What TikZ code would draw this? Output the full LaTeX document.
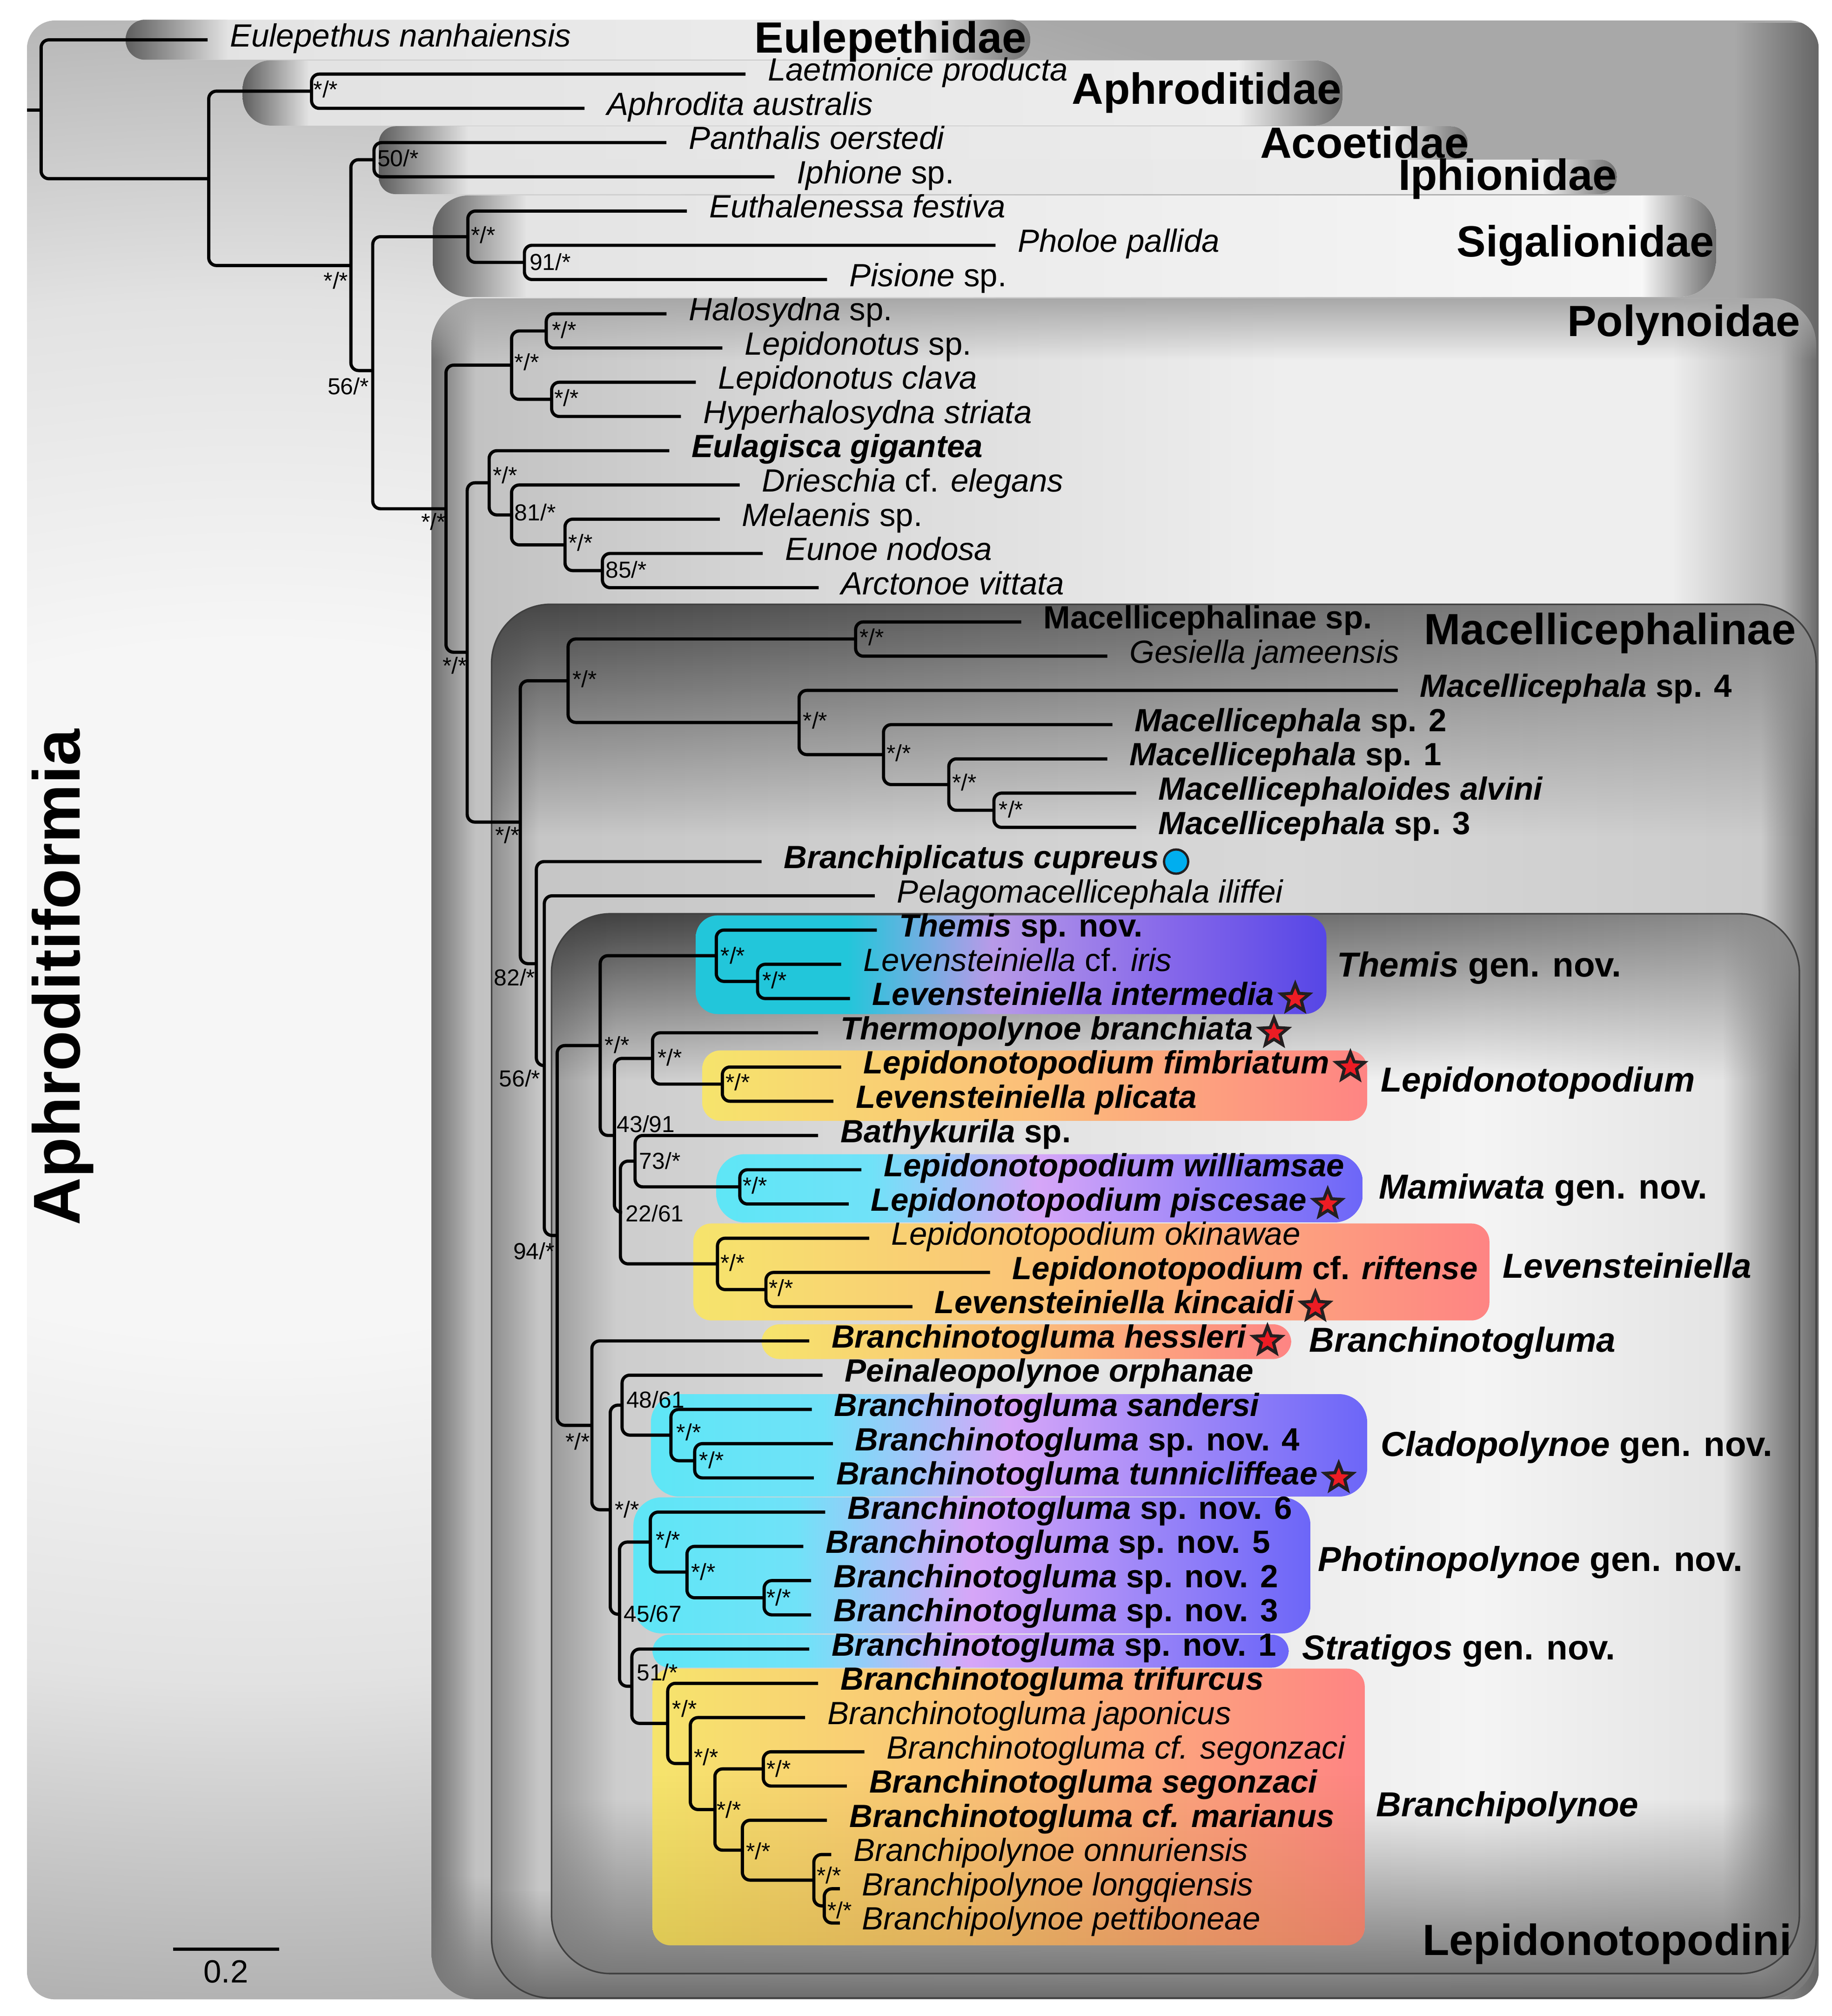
\documentclass[tikz,border=0pt]{standalone}
\usepackage{fontspec}
\setmainfont{Liberation Sans}
\usetikzlibrary{shapes.geometric,fadings}

\definecolor{ink}{HTML}{231F20}
\definecolor{starred}{HTML}{ED1C24}
\definecolor{dotblue}{HTML}{00AEEF}
\definecolor{thA}{HTML}{22C6DA}
\definecolor{thB}{HTML}{B89AE8}
\definecolor{thD}{HTML}{8466EA}
\definecolor{thC}{HTML}{5646E6}
\definecolor{cvA}{HTML}{5EE6F6}
\definecolor{cvAA}{HTML}{70E2F8}
\definecolor{cvB}{HTML}{D6A6F8}
\definecolor{cvD}{HTML}{9C86F8}
\definecolor{cvC}{HTML}{6C66F8}
\definecolor{yoA}{HTML}{F6E46C}
\definecolor{yoB}{HTML}{FBBE7A}
\definecolor{yoC}{HTML}{FE8483}
\definecolor{oA}{HTML}{F6F6F6}
\definecolor{oB}{HTML}{E2E2E2}
\definecolor{oC}{HTML}{A8A8A8}
\definecolor{oD}{HTML}{666666}
\definecolor{pa}{HTML}{6E6E6E}
\definecolor{pb}{HTML}{C2C2C2}
\definecolor{pc}{HTML}{D6D6D6}
\definecolor{pd}{HTML}{EEEEEE}
\definecolor{pe}{HTML}{B4B4B4}
\definecolor{pT}{HTML}{A8A8A8}
\definecolor{pB}{HTML}{7A7A7A}
\definecolor{ma}{HTML}{8E8E8E}
\definecolor{mb}{HTML}{C6C6C6}
\definecolor{mc}{HTML}{D8D8D8}
\definecolor{md}{HTML}{CBCBCB}
\definecolor{me}{HTML}{6A6A6A}
\definecolor{mTa}{HTML}{454545}
\definecolor{mTb}{HTML}{8A8A8A}
\definecolor{mB}{HTML}{6E6E6E}
\definecolor{la}{HTML}{9A9A9A}
\definecolor{lb}{HTML}{CDCDCD}
\definecolor{lc}{HTML}{E2E2E2}
\definecolor{ld}{HTML}{F4F4F4}
\definecolor{le}{HTML}{E4E4E4}
\definecolor{lf}{HTML}{6C6C6C}
\definecolor{lTa}{HTML}{3E3E3E}
\definecolor{lTb}{HTML}{8E8E8E}
\definecolor{lB}{HTML}{7A7A7A}
\definecolor{pkD}{HTML}{5E5E5E}
\definecolor{pkL}{HTML}{E2E2E2}
\definecolor{pkM}{HTML}{EEEEEE}
\definecolor{pkW}{HTML}{F8F8F8}
\definecolor{pkR}{HTML}{6E6E6E}
\definecolor{olv}{HTML}{8A6A00}

\pgfdeclarehorizontalshading{themisS}{100bp}{color(0bp)=(thA); color(25bp)=(thA); color(37bp)=(thA); color(48.5bp)=(thB); color(63bp)=(thD); color(75bp)=(thC); color(100bp)=(thC)}
\pgfdeclarehorizontalshading{cvS}{100bp}{color(0bp)=(cvA); color(25bp)=(cvA); color(37bp)=(cvAA); color(50bp)=(cvB); color(63bp)=(cvD); color(75bp)=(cvC); color(100bp)=(cvC)}
\pgfdeclarehorizontalshading{yoS}{100bp}{color(0bp)=(yoA); color(25bp)=(yoA); color(50bp)=(yoB); color(75bp)=(yoC); color(100bp)=(yoC)}
\pgfdeclarehorizontalshading{polyS}{100bp}{color(0bp)=(pa); color(25bp)=(pa); color(26.6bp)=(pb); color(37.3bp)=(pc); color(55.8bp)=(pd); color(69.8bp)=(pd); color(73.7bp)=(pe); color(75bp)=(pa); color(100bp)=(pa)}
\pgfdeclarehorizontalshading{macS}{100bp}{color(0bp)=(ma); color(25bp)=(ma); color(26.8bp)=(mb); color(55bp)=(mc); color(72.9bp)=(md); color(75bp)=(me); color(100bp)=(me)}
\pgfdeclarehorizontalshading{lepS}{100bp}{color(0bp)=(la); color(25bp)=(la); color(27.6bp)=(lb); color(44.1bp)=(lc); color(62.1bp)=(ld); color(71.9bp)=(le); color(75bp)=(lf); color(100bp)=(lf)}
\pgfdeclareradialshading{glowO}{\pgfpoint{0bp}{0bp}}{color(0bp)=(oA); color(8bp)=(oA); color(16bp)=(oB); color(25bp)=(oC); color(50bp)=(oC)}

\tikzfading[name=fdown, top color=transparent!0, bottom color=transparent!100]
\tikzfading[name=fup, top color=transparent!100, bottom color=transparent!0]
\tikzfading[name=fright, left color=transparent!100, right color=transparent!0]

\newcommand\BI[1]{\textbf{\textit{#1}}}
\newcommand\txn[4]{\coordinate (t#1) at (#2,#3);\node[sp] (l#1) at ([xshift=8.5pt]t#1) {#4};}
\newcommand\pillbox[8]{%
  \begin{scope}
    \clip[rounded corners=#5] (#1,#2) rectangle (#3,#4);
    \shade[left color=pkL, right color=#8] (#1,#2) rectangle (#3,#4);
    \shade[left color=pkD, right color=pkL] (#1,#2) rectangle (#6,#4);
    \shade[left color=#8, right color=pkR] (#7,#2) rectangle (#3,#4);
  \end{scope}}

\begin{document}
\begin{tikzpicture}[x=0.5pt,y=-0.5pt,
  br/.style={line width=1.25pt, rounded corners=3pt},
  sp/.style={anchor=mid west, inner sep=0pt, font=\fontsize{12.5}{15}\selectfont},
  supp/.style={anchor=base west, inner sep=0pt, font=\fontsize{9}{10}\selectfont},
  fam/.style={anchor=base west, inner sep=0pt, font=\fontsize{17}{20}\selectfont\bfseries},
  cladel/.style={anchor=base west, inner sep=0pt, font=\fontsize{13.5}{16}\selectfont\bfseries},
  redstar/.style={star, star points=5, star point ratio=2.3, fill=starred, draw=ink, line width=1.2pt, minimum size=11.5pt, inner sep=0pt},
  bluedot/.style={circle, fill=dotblue, draw=ink, line width=0.9pt, minimum size=9.4pt, inner sep=0pt}]
\useasboundingbox (0,0) rectangle (1425,1568);
\fill[white] (0,0) rectangle (1425,1568);

% ---------- outer box (Aphroditiformia)
\fill[oC, rounded corners=11pt] (21,16) rectangle (1415,1555);
\begin{scope}
  \clip[rounded corners=11pt] (21,16) rectangle (1415,1555);
  \shade[shading=glowO] (200,770) ellipse [x radius=700pt, y radius=420pt];
  \fill[oD, path fading=fright] (1350,16) rectangle (1415,1555);
\end{scope}

% ---------- family pills
\pillbox{97.8}{15.3}{801.6}{46.5}{7.5pt}{177}{712}{pkM}
\pillbox{188.8}{46.9}{1044.5}{97.7}{11pt}{240}{963}{pkM}
\pillbox{294.7}{124.1}{1258}{151}{6.5pt}{364}{1200}{pkM}
\pillbox{294.7}{98.2}{1142}{124.1}{6.5pt}{364}{1083}{pkM}
\shade[left color=pkD, right color=pkL] (294.7,112) rectangle (364,137);
\pillbox{336.7}{152}{1335}{231}{14pt}{409}{1277}{pkW}

% ---------- Polynoidae box
\shade[shading=polyS, rounded corners=18pt] (335.7,232) rectangle (1413,1555);
\begin{scope}
  \clip[rounded corners=18pt] (335.7,232) rectangle (1413,1555);
  \fill[pT, path fading=fdown] (335.7,232) rectangle (1413,280);
  \fill[pB, path fading=fup] (335.7,1460) rectangle (1413,1555);
\end{scope}

% ---------- Macellicephalinae box
\shade[shading=macS, rounded corners=23pt] (382.5,470) rectangle (1413,1554);
\begin{scope}
  \clip[rounded corners=23pt] (382.5,470) rectangle (1413,1554);
  \shade[left color=mTa, right color=mTb, path fading=fdown] (382.5,470) rectangle (1413,650);
  \fill[mB, path fading=fup] (382.5,1470) rectangle (1413,1554);
\end{scope}
\draw[black!75, line width=0.6pt, rounded corners=23pt] (382.5,470) rectangle (1413,1554);

% ---------- Lepidonotopodini box
\shade[shading=lepS, rounded corners=23pt] (429.1,710.7) rectangle (1400,1535);
\begin{scope}
  \clip[rounded corners=23pt] (429.1,710.7) rectangle (1400,1535);
  \shade[left color=lTa, right color=lTb, path fading=fdown] (429.1,710.7) rectangle (1400,840);
  \fill[lB, path fading=fup] (429.1,1400) rectangle (1400,1535);
\end{scope}
\draw[black!75, line width=0.6pt, rounded corners=23pt] (429.1,710.7) rectangle (1400,1535);

% ---------- coloured clade boxes
\shade[shading=themisS, rounded corners=8.5pt] (541.3,712) rectangle (1032,788.7);
\shade[shading=yoS, rounded corners=7pt] (546.4,817) rectangle (1063.7,871.7);
\shade[shading=cvS, rounded corners=11pt] (557.3,897.7) rectangle (1060.3,950.7);
\shade[shading=yoS, rounded corners=7pt] (539.4,951.6) rectangle (1158.8,1027);
\shade[shading=yoS, rounded corners=7pt] (592.5,1030) rectangle (1004.6,1057);
\shade[shading=cvS, rounded corners=11pt] (506.4,1084.3) rectangle (1063.7,1164);
\shade[shading=cvS, rounded corners=11pt] (492.8,1164.6) rectangle (1019.6,1270.4);
\shade[shading=cvS, rounded corners=6.5pt] (507.7,1271.4) rectangle (1002.6,1297);
\shade[shading=yoS, rounded corners=7pt] (507.7,1297.8) rectangle (1061.8,1513);
\begin{scope}
  \clip[rounded corners=7pt] (507.7,1297.8) rectangle (1061.8,1513);
  \fill[olv, fill opacity=0.22, path fading=fup] (507.7,1380) rectangle (1061.8,1513);
\end{scope}

% ---------- taxa
\txn{1}{161.5}{31.00}{\textit{Eulepethus nanhaiensis}}
\txn{2}{580}{57.63}{\textit{Laetmonice producta}}
\txn{3}{454.8}{84.26}{\textit{Aphrodita australis}}
\txn{4}{518.5}{110.89}{\textit{Panthalis oerstedi}}
\txn{5}{602.6}{137.52}{\textit{Iphione} sp.}
\txn{6}{534.4}{164.15}{\textit{Euthalenessa festiva}}
\txn{7}{774.5}{190.78}{\textit{Pholoe pallida}}
\txn{8}{643.5}{217.41}{\textit{Pisione} sp.}
\txn{9}{518.6}{244.04}{\textit{Halosydna} sp.}
\txn{10}{562}{270.67}{\textit{Lepidonotus} sp.}
\txn{11}{541.4}{297.30}{\textit{Lepidonotus clava}}
\txn{12}{529.8}{323.93}{\textit{Hyperhalosydna striata}}
\txn{13}{520.7}{350.56}{\BI{Eulagisca gigantea}}
\txn{14}{575.5}{377.19}{\textit{Drieschia} cf. \textit{elegans}}
\txn{15}{560}{403.82}{\textit{Melaenis} sp.}
\txn{16}{593.4}{430.45}{\textit{Eunoe nodosa}}
\txn{17}{637}{457.08}{\textit{Arctonoe vittata}}
\txn{18}{794.5}{483.71}{\textbf{Macellicephalinae sp.}}
\txn{19}{861.5}{510.34}{\textit{Gesiella jameensis}}
\txn{20}{1087.5}{536.97}{\BI{Macellicephala} \textbf{sp. 4}}
\txn{21}{865.5}{563.60}{\BI{Macellicephala} \textbf{sp. 2}}
\txn{22}{861.5}{590.23}{\BI{Macellicephala} \textbf{sp. 1}}
\txn{23}{884}{616.86}{\BI{Macellicephaloides alvini}}
\txn{24}{884}{643.49}{\BI{Macellicephala} \textbf{sp. 3}}
\txn{25}{592.5}{670.12}{\BI{Branchiplicatus cupreus}}
\txn{26}{680.6}{696.75}{\textit{Pelagomacellicephala iliffei}}
\txn{27}{682.2}{723.38}{\BI{Themis} \textbf{sp. nov.}}
\txn{28}{654.4}{750.01}{\textit{Levensteiniella} cf. \textit{iris}}
\txn{29}{661.3}{776.64}{\BI{Levensteiniella intermedia}}
\txn{30}{636.5}{803.27}{\BI{Thermopolynoe branchiata}}
\txn{31}{654.4}{829.90}{\BI{Lepidonotopodium fimbriatum}}
\txn{32}{648.4}{856.53}{\BI{Levensteiniella plicata}}
\txn{33}{636.5}{883.16}{\BI{Bathykurila} \textbf{sp.}}
\txn{34}{670.2}{909.79}{\BI{Lepidonotopodium williamsae}}
\txn{35}{660.3}{936.42}{\BI{Lepidonotopodium piscesae}}
\txn{36}{676.2}{963.05}{\textit{Lepidonotopodium okinawae}}
\txn{37}{770.3}{989.68}{\BI{Lepidonotopodium} \textbf{cf.} \BI{riftense}}
\txn{38}{709.9}{1016.31}{\BI{Levensteiniella kincaidi}}
\txn{39}{629.6}{1042.94}{\BI{Branchinotogluma hessleri}}
\txn{40}{639.9}{1069.57}{\BI{Peinaleopolynoe orphanae}}
\txn{41}{631.6}{1096.20}{\BI{Branchinotogluma sandersi}}
\txn{42}{648}{1122.83}{\BI{Branchinotogluma} \textbf{sp. nov. 4}}
\txn{43}{633.2}{1149.46}{\BI{Branchinotogluma tunnicliffeae}}
\txn{44}{642}{1176.09}{\BI{Branchinotogluma} \textbf{sp. nov. 6}}
\txn{45}{625}{1202.72}{\BI{Branchinotogluma} \textbf{sp. nov. 5}}
\txn{46}{631.1}{1229.35}{\BI{Branchinotogluma} \textbf{sp. nov. 2}}
\txn{47}{631.1}{1255.98}{\BI{Branchinotogluma} \textbf{sp. nov. 3}}
\txn{48}{629.6}{1282.61}{\BI{Branchinotogluma} \textbf{sp. nov. 1}}
\txn{49}{636.5}{1309.24}{\BI{Branchinotogluma trifurcus}}
\txn{50}{626.4}{1335.87}{\textit{Branchinotogluma japonicus}}
\txn{51}{672.5}{1362.50}{\textit{Branchinotogluma cf. segonzaci}}
\txn{52}{658.9}{1389.13}{\BI{Branchinotogluma segonzaci}}
\txn{53}{643.4}{1415.76}{\BI{Branchinotogluma cf. marianus}}
\txn{54}{646.7}{1442.39}{\textit{Branchipolynoe onnuriensis}}
\txn{55}{653.4}{1469.02}{\textit{Branchipolynoe longqiensis}}
\txn{56}{653.4}{1495.65}{\textit{Branchipolynoe pettiboneae}}

% markers
\node[bluedot] (m25) at ([xshift=6.5pt]l25.mid east) {};
\foreach \k in {29,30,31,35,38,39,43}{\node[redstar] (m\k) at ([xshift=8pt]l\k.mid east) {};}

% ---------- internal nodes
\coordinate (R0) at (21,85.7);
\coordinate (R) at (32,85.7);
\coordinate (A) at (162.4,139);
\coordinate (B) at (242.4,70.9);
\coordinate (C) at (273,206.5);
\coordinate (D) at (291,124.2);
\coordinate (E) at (290,288.2);
\coordinate (F) at (364,184.1);
\coordinate (G) at (408,204.1);
\coordinate (H) at (347,395.7);
\coordinate (I) at (398,284);
\coordinate (J) at (425,257.4);
\coordinate (K) at (429.2,310.6);
\coordinate (N) at (363.5,507.3);
\coordinate (L) at (380.6,375.5);
\coordinate (O) at (398,400.5);
\coordinate (Q) at (439.6,423.8);
\coordinate (S) at (468.7,443.8);
\coordinate (P) at (404.8,639.4);
\coordinate (T) at (442,529.5);
\coordinate (U) at (665.7,497);
\coordinate (V) at (621.7,561.9);
\coordinate (W) at (687.4,586.9);
\coordinate (X) at (738.2,610.2);
\coordinate (Y) at (773.3,630.2);
\coordinate (Q82) at (417.3,749.5);
\coordinate (R56) at (423.5,828.8);
\coordinate (S94) at (433.5,960.9);
\coordinate (U1) at (467,813.2);
\coordinate (TH) at (557.3,743.3);
\coordinate (TH2) at (589.4,763.3);
\coordinate (V43) at (478,883.1);
\coordinate (W8) at (507.7,823.2);
\coordinate (LP) at (562,843.2);
\coordinate (X22) at (482.7,943);
\coordinate (Y73) at (494.1,903.1);
\coordinate (MW) at (575.6,923.1);
\coordinate (LV) at (558.2,983);
\coordinate (LV2) at (595.9,1003);
\coordinate (Z) at (460.5,1108.6);
\coordinate (BB) at (474.8,1174.2);
\coordinate (AA) at (484,1092.9);
\coordinate (DD) at (522,1116.2);
\coordinate (EE) at (540.5,1136.1);
\coordinate (CC) at (482,1255.5);
\coordinate (FF) at (506,1199.4);
\coordinate (GG) at (534.5,1222.7);
\coordinate (HH) at (594.5,1242.7);
\coordinate (II) at (491.6,1311.5);
\coordinate (JJ) at (519.5,1340.4);
\coordinate (KK) at (537.1,1371.6);
\coordinate (LL) at (556.2,1407.4);
\coordinate (MM) at (593.9,1375.8);
\coordinate (NN) at (577.6,1439);
\coordinate (OO) at (633.2,1462.3);
\coordinate (PP) at (641.3,1482.3);

% ---------- branches
\draw[br] (R0) -- (R);
\draw[br] (t1) -| (R) |- (A);
\draw[br] (B) -| (A) |- (C);
\draw[br] (t2) -| (B) |- (t3);
\draw[br] (D) -| (C) |- (E);
\draw[br] (t4) -| (D) |- (t5);
\draw[br] (F) -| (E) |- (H);
\draw[br] (t6) -| (F) |- (G);
\draw[br] (t7) -| (G) |- (t8);
\draw[br] (I) -| (H) |- (N);
\draw[br] (J) -| (I) |- (K);
\draw[br] (t9) -| (J) |- (t10);
\draw[br] (t11) -| (K) |- (t12);
\draw[br] (L) -| (N) |- (P);
\draw[br] (t13) -| (L) |- (O);
\draw[br] (t14) -| (O) |- (Q);
\draw[br] (t15) -| (Q) |- (S);
\draw[br] (t16) -| (S) |- (t17);
\draw[br] (T) -| (P) |- (Q82);
\draw[br] (U) -| (T) |- (V);
\draw[br] (t18) -| (U) |- (t19);
\draw[br] (t20) -| (V) |- (W);
\draw[br] (t21) -| (W) |- (X);
\draw[br] (t22) -| (X) |- (Y);
\draw[br] (t23) -| (Y) |- (t24);
\draw[br] (t25) -| (Q82) |- (R56);
\draw[br] (t26) -| (R56) |- (S94);
\draw[br] (U1) -| (S94) |- (Z);
\draw[br] (TH) -| (U1) |- (V43);
\draw[br] (t27) -| (TH) |- (TH2);
\draw[br] (t28) -| (TH2) |- (t29);
\draw[br] (W8) -| (V43) |- (X22);
\draw[br] (t30) -| (W8) |- (LP);
\draw[br] (t31) -| (LP) |- (t32);
\draw[br] (Y73) -| (X22) |- (LV);
\draw[br] (t33) -| (Y73) |- (MW);
\draw[br] (t34) -| (MW) |- (t35);
\draw[br] (t36) -| (LV) |- (LV2);
\draw[br] (t37) -| (LV2) |- (t38);
\draw[br] (t39) -| (Z) |- (BB);
\draw[br] (AA) -| (BB) |- (CC);
\draw[br] (t40) -| (AA) |- (DD);
\draw[br] (t41) -| (DD) |- (EE);
\draw[br] (t42) -| (EE) |- (t43);
\draw[br] (FF) -| (CC) |- (II);
\draw[br] (t44) -| (FF) |- (GG);
\draw[br] (t45) -| (GG) |- (HH);
\draw[br] (t46) -| (HH) |- (t47);
\draw[br] (t48) -| (II) |- (JJ);
\draw[br] (t49) -| (JJ) |- (KK);
\draw[br] (t50) -| (KK) |- (LL);
\draw[br] (MM) -| (LL) |- (NN);
\draw[br] (t51) -| (MM) |- (t52);
\draw[br] (t53) -| (NN) |- (OO);
\draw[br] (t54) -| (OO) |- (PP);
\draw[br] (t55) -| (PP) |- (t56);

% ---------- support values
\node[supp] (sB) at (243.5,76) {*/*};
\node[supp] (sC) at (251.5,224.6) {*/*};
\node[supp] (sD) at (293.3,129.3) {50/*};
\node[supp] (sE) at (254.6,306.9) {56/*};
\node[supp] (sF) at (366,189) {*/*};
\node[supp] (sG) at (411.6,210) {91/*};
\node[supp] (sH) at (327.4,412) {*/*};
\node[supp] (sI) at (400,288) {*/*};
\node[supp] (sJ) at (429,263) {*/*};
\node[supp] (sK) at (431,316) {*/*};
\node[supp] (sN) at (344,524) {*/*};
\node[supp] (sL) at (383,376) {*/*};
\node[supp] (sO) at (400,405) {81/*};
\node[supp] (sQ) at (441.7,428.5) {*/*};
\node[supp] (sS) at (470.8,449.3) {85/*};
\node[supp] (sP) at (385,656) {*/*};
\node[supp] (sT) at (445,534.5) {*/*};
\node[supp] (sU) at (668.5,502) {*/*};
\node[supp] (sV) at (624.4,566.8) {*/*};
\node[supp] (sW) at (689.5,592) {*/*};
\node[supp] (sX) at (740.5,615) {*/*};
\node[supp] (sY) at (776.8,636) {*/*};
\node[supp] (sQ82) at (384,766.6) {82/*};
\node[supp] (sR56) at (388,845) {56/*};
\node[supp] (sS94) at (399,979.6) {94/*};
\node[supp] (sU1) at (470.2,819) {*/*};
\node[supp] (sTH) at (560.3,749.5) {*/*};
\node[supp] (sTH2) at (592.8,768.8) {*/*};
\node[supp] (sV43) at (479.6,880.5) {43/91};
\node[supp] (sW8) at (511.2,829) {*/*};
\node[supp] (sLP) at (564.2,848) {*/*};
\node[supp] (sX22) at (486.5,950) {22/61};
\node[supp] (sY73) at (497,909.4) {73/*};
\node[supp] (sMW) at (577.6,928.6) {*/*};
\node[supp] (sLV) at (560.2,988.6) {*/*};
\node[supp] (sLV2) at (597.9,1008) {*/*};
\node[supp] (sZ) at (439.5,1127.6) {*/*};
\node[supp] (sBB) at (478,1180.6) {*/*};
\node[supp] (sAA) at (487,1095) {48/61};
\node[supp] (sDD) at (526,1120.5) {*/*};
\node[supp] (sEE) at (543.7,1142) {*/*};
\node[supp] (sCC) at (485,1261.6) {45/67};
\node[supp] (sFF) at (510,1204) {*/*};
\node[supp] (sGG) at (537.3,1229) {*/*};
\node[supp] (sHH) at (596,1249) {*/*};
\node[supp] (sII) at (495,1307) {51/*};
\node[supp] (sJJ) at (522.7,1335.5) {*/*};
\node[supp] (sKK) at (539.4,1373) {*/*};
\node[supp] (sLL) at (557.3,1414) {*/*};
\node[supp] (sMM) at (595.9,1382) {*/*};
\node[supp] (sNN) at (580,1446) {*/*};
\node[supp] (sOO) at (635.2,1465) {*/*};
\node[supp] (sPP) at (643.4,1492) {*/*};

% ---------- family / clade labels
\node[fam] (fEul) at (586.7,41.2) {Eulepethidae};
\node[fam] (fAph) at (833.5,80.8) {Aphroditidae};
\node[fam] (fAco) at (980,122.8) {Acoetidae};
\node[fam] (fIph) at (1087.6,147.9) {Iphionidae};
\node[fam] (fSig) at (1133,199.6) {Sigalionidae};
\node[fam] (fPol) at (1219,261.5) {Polynoidae};
\node[fam] (fMac) at (1107.7,501.4) {Macellicephalinae};
\node[fam] (fLep) at (1106.4,1520.6) {Lepidonotopodini};
\node[rotate=90, anchor=base, inner sep=0pt, font=\fontsize{25.75}{30}\selectfont\bfseries] (fApf) at (62.1,760.1) {Aphroditiformia};

\node[cladel] (cThe) at (1040,759.6) {\textit{Themis} gen. nov.};
\node[cladel] (cLpd) at (1073.8,849.2) {\textit{Lepidonotopodium}};
\node[cladel] (cMam) at (1072.5,932.3) {\textit{Mamiwata} gen. nov.};
\node[cladel] (cLev) at (1168.7,994) {\textit{Levensteiniella}};
\node[cladel] (cBra) at (1018.2,1051.4) {\textit{Branchinotogluma}};
\node[cladel] (cCla) at (1073.8,1132.6) {\textit{Cladopolynoe} gen. nov.};
\node[cladel] (cPho) at (1025,1222.2) {\textit{Photinopolynoe} gen. nov.};
\node[cladel] (cStr) at (1012.8,1290.7) {\textit{Stratigos} gen. nov.};
\node[cladel] (cBrp) at (1070.4,1412.8) {\textit{Branchipolynoe}};

% ---------- scale bar
\coordinate (sb1) at (134.5,1516);
\coordinate (sb2) at (217.2,1516);
\draw[line width=1.15pt] (sb1) -- (sb2);
\node[anchor=base, inner sep=0pt, font=\fontsize{12.5}{15}\selectfont] (sbl) at (175.8,1542) {0.2};
\end{tikzpicture}
\end{document}
